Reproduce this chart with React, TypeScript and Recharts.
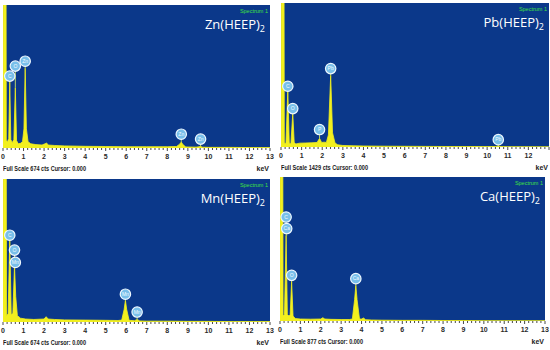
import { ComposedChart, Area, XAxis, YAxis, CartesianGrid, ReferenceDot, ReferenceLine } from "recharts";

const BLUE = "#0b388a";
const YELLOW = "#f2f01e";
const BADGE = "#78bfea";

// keV axis: labels at whole numbers, small ticks every 0.2 keV
const MAJOR_LABELS = ["0", "1", "2", "3", "4", "5", "6", "7", "8", "9", "10", "11", "12", "13"];
const MINOR_TICKS = Array.from({ length: 66 }, (_, i) => Math.round(i * 2) / 10);

// Zn(HEEP)2 — full scale 674 cts
const znEnergy = [0, 0.02, 0.12, 0.16, 0.22, 0.28, 0.33, 0.38, 0.45, 0.53, 0.6, 0.66, 0.74, 0.85, 0.95, 1.02, 1.08, 1.14, 1.22, 1.35, 1.6, 1.9, 2.05, 2.12, 2.2, 2.5, 3, 4, 5, 6, 7, 8, 8.45, 8.6, 8.68, 8.76, 8.9, 9.4, 9.55, 9.62, 9.69, 10, 11, 12, 13];
const znCounts = [0, 3000, 3000, 35, 30, 45, 311, 40, 25, 40, 284, 35, 20, 22, 30, 90, 376, 90, 30, 20, 16, 14, 20, 24, 14, 12, 10, 8, 7, 6, 6, 6, 7, 18, 28, 16, 5, 4, 6, 9, 4, 3, 3, 2, 2];
const znLabels = ["C", "O", "Zn", "Zn", "Zn"];
const znLabelEnergy = [0.33, 0.6, 1.08, 8.68, 9.62];
const znLabelCounts = [339, 386, 409, 65, 42];
const znPeakCounts = [311, 284, 376, 28, 9];

// Pb(HEEP)2 — full scale 1429 cts
const pbEnergy = [0, 0.02, 0.12, 0.16, 0.24, 0.33, 0.4, 0.48, 0.57, 0.64, 0.72, 0.9, 1.2, 1.5, 1.75, 1.87, 1.97, 2.1, 2.2, 2.3, 2.41, 2.5, 2.62, 2.75, 3, 3.5, 4, 5, 6, 7, 8, 9, 10, 10.4, 10.54, 10.68, 11, 12, 13];
const pbCounts = [0, 5000, 5000, 40, 35, 563, 40, 30, 334, 45, 30, 38, 40, 42, 45, 86, 45, 48, 45, 120, 711, 140, 40, 22, 15, 12, 10, 8, 7, 6, 5, 5, 4, 5, 10, 4, 3, 3, 2];
const pbLabels = ["C", "O", "P", "Pb", "Pb"];
const pbLabelEnergy = [0.33, 0.57, 1.87, 2.41, 10.54];
const pbLabelCounts = [603, 381, 173, 778, 73];
const pbPeakCounts = [563, 334, 86, 711, 10];

// Mn(HEEP)2 — full scale 674 cts
const mnEnergy = [0, 0.02, 0.13, 0.17, 0.25, 0.33, 0.4, 0.48, 0.56, 0.62, 0.7, 0.85, 1.1, 1.5, 2.0, 2.1, 2.2, 2.5, 3, 4, 5, 5.6, 5.78, 5.9, 5.96, 6.02, 6.14, 6.4, 6.53, 6.66, 7, 8, 9, 10, 11, 12, 13];
const mnCounts = [0, 3000, 3000, 30, 40, 386, 35, 40, 265, 120, 30, 18, 14, 12, 14, 25, 14, 12, 10, 9, 8, 7, 9, 60, 102, 60, 8, 6, 12, 5, 4, 4, 3, 3, 2, 2, 2];
const mnLabels = ["C", "O", "Mn", "Mn", "Mn"];
const mnLabelEnergy = [0.33, 0.56, 0.6, 5.96, 6.53];
const mnLabelCounts = [409, 339, 281, 131, 47];
const mnPeakCounts = [386, 265, 265, 102, 12];

// Ca(HEEP)2 — full scale 877 cts
const caEnergy = [0, 0.02, 0.1, 0.15, 0.22, 0.3, 0.36, 0.44, 0.5, 0.57, 0.64, 0.75, 1, 1.5, 2, 2.1, 2.2, 2.5, 3, 3.4, 3.55, 3.66, 3.72, 3.78, 3.9, 4.0, 4.1, 4.2, 4.5, 5, 6, 7, 8, 9, 10, 11, 12, 13];
const caCounts = [0, 4000, 4000, 30, 40, 520, 40, 30, 40, 242, 30, 15, 12, 11, 12, 20, 12, 10, 9, 9, 12, 130, 217, 130, 12, 12, 18, 8, 6, 5, 4, 4, 3, 3, 2, 2, 2, 2];
const caLabels = ["C", "Ca", "O", "Ca"];
const caLabelEnergy = [0.3, 0.33, 0.57, 3.72];
const caLabelCounts = [633, 563, 278, 258];
const caPeakCounts = [520, 520, 242, 217];

const PANELS = [
  { metal: "Zn", fullScale: 674, energy: znEnergy, counts: znCounts, labels: znLabels, labelE: znLabelEnergy, labelC: znLabelCounts, peakC: znPeakCounts, left: 3, top: 5, width: 267, plotH: 143, lastLabel: 13 },
  { metal: "Pb", fullScale: 1429, energy: pbEnergy, counts: pbCounts, labels: pbLabels, labelE: pbLabelEnergy, labelC: pbLabelCounts, peakC: pbPeakCounts, left: 281, top: 3, width: 268, plotH: 144, lastLabel: 12 },
  { metal: "Mn", fullScale: 674, energy: mnEnergy, counts: mnCounts, labels: mnLabels, labelE: mnLabelEnergy, labelC: mnLabelCounts, peakC: mnPeakCounts, left: 3, top: 179, width: 267, plotH: 143, lastLabel: 13 },
  { metal: "Ca", fullScale: 877, energy: caEnergy, counts: caCounts, labels: caLabels, labelE: caLabelEnergy, labelC: caLabelCounts, peakC: caPeakCounts, left: 280, top: 177, width: 265, plotH: 144, lastLabel: 13 },
];

const FONT = "Liberation Sans, Arial, sans-serif";

function AxisTick(props: any) {
  const { x, y, payload, lastLabel } = props;
  const v = payload.value;
  const major = Math.abs(v - Math.round(v)) < 1e-6;
  return (
    <g>
      <line x1={x} x2={x} y1={y} y2={y + (major ? 3 : 2)} stroke="#333" strokeWidth={0.9} />
      {major && Math.round(v) <= lastLabel && (
        <text x={x} y={y + 11} textAnchor="middle" fontSize={7} fontWeight={700} fontFamily={FONT} fill="#2a2a2a">
          {MAJOR_LABELS[Math.round(v)]}
        </text>
      )}
    </g>
  );
}

function Badge(props: any) {
  const { cx, cy, sym } = props;
  return (
    <g>
      <circle cx={cx} cy={cy} r={5.2} fill={BADGE} stroke="#eef8ff" strokeWidth={1.2} />
      <text x={cx} y={cy + 1.8} textAnchor="middle" fontSize={5} fontFamily={FONT} fill="#f2faff">
        {sym}
      </text>
    </g>
  );
}

function SpectrumPanel({ p }: { p: (typeof PANELS)[number] }) {
  const data = p.energy.map((e, i) => ({ e, c: p.counts[i] }));
  const footW = p.fullScale >= 1000 ? 87 : 83;
  return (
    <div style={{ position: "absolute", left: p.left, top: p.top, width: p.width, height: p.plotH + 28 }}>
      <ComposedChart width={p.width} height={p.plotH + 14} data={data} margin={{ top: 0, right: 0, bottom: 0, left: 0 }}>
        <CartesianGrid horizontal={false} vertical={false} fill={BLUE} />
        <XAxis
          dataKey="e"
          type="number"
          domain={[0, 13]}
          ticks={MINOR_TICKS}
          interval={0}
          height={14}
          axisLine={false}
          tickLine={false}
          tickSize={0}
          tickMargin={0}
          tick={<AxisTick lastLabel={p.lastLabel} />}
          allowDataOverflow
        />
        <YAxis hide domain={[0, p.fullScale]} allowDataOverflow />
        <Area type="linear" dataKey="c" stroke={YELLOW} strokeWidth={0.8} fill={YELLOW} fillOpacity={1} isAnimationActive={false} />
        {p.labels.map((s, i) => (
          <ReferenceLine
            key={"l" + i}
            segment={[{ x: p.labelE[i], y: p.peakC[i] }, { x: p.labelE[i], y: p.labelC[i] }]}
            stroke="#b9d36a"
            strokeWidth={1}
          />
        ))}
        {p.labels.map((s, i) => (
          <ReferenceDot key={"d" + i} x={p.labelE[i]} y={p.labelC[i]} r={5} shape={(sp: any) => <Badge {...sp} sym={s} />} />
        ))}
      </ComposedChart>
      <svg width={p.width} height={p.plotH + 28} style={{ position: "absolute", left: 0, top: 0, pointerEvents: "none" }}>
        <text x={p.width - 2} y={8} textAnchor="end" fontSize={5.5} fontFamily={FONT} fill="#3fe03f">
          Spectrum 1
        </text>
        <text x={p.width - 5} y={24} textAnchor="end" fontSize={13} fontFamily="Open Sans, sans-serif" fill="#ffffff">
          {p.metal}(HEEP)
          <tspan dy={3} fontSize={9}>2</tspan>
        </text>
        <text x={0} y={p.plotH + 23} fontSize={7} fontWeight={600} fontFamily={FONT} fill="#1a1a1a" textLength={footW} lengthAdjust="spacingAndGlyphs">
          {`Full Scale ${p.fullScale} cts Cursor: 0.000`}
        </text>
        <text x={p.width - 1} y={p.plotH + 23} textAnchor="end" fontSize={7} fontWeight={600} fontFamily={FONT} fill="#1a1a1a">
          keV
        </text>
      </svg>
    </div>
  );
}

export default function App() {
  return (
    <div style={{ position: "absolute", left: 0, top: 0, width: 550, height: 350, background: "#fff", overflow: "hidden" }}>
      <style>{".recharts-surface{overflow:visible}"}</style>
      {PANELS.map((p) => (
        <SpectrumPanel key={p.metal} p={p} />
      ))}
    </div>
  );
}
